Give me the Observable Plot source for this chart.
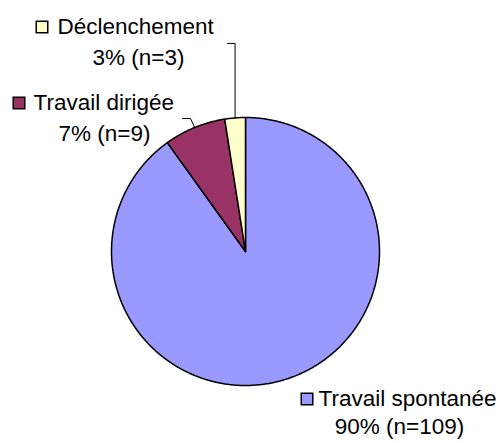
<!DOCTYPE html>
<html>
<head>
<meta charset="utf-8">
<script src="https://cdn.jsdelivr.net/npm/d3@7"></script>
<script src="https://cdn.jsdelivr.net/npm/@observablehq/plot@0.6"></script>
<style>
html,body{margin:0;padding:0;background:#fff;}
</style>
</head>
<body>
<div id="chart"></div>
<script>
// ---- data ----
const categories = ["Travail spontanée", "Travail dirigée", "Déclenchement"];
const counts = [109, 9, 3];
const percentLabels = ["90% (n=109)", "7% (n=9)", "3% (n=3)"];
const colors = ["#9999FF", "#993366", "#FFFFCC"];

// ---- layout ----
const W = 501, H = 443;
const cx = 245, cy = 251, R = 134;
const font = "'Liberation Sans', Arial, sans-serif";
const fs = 22.5;

const arcs = d3.pie().sort(null)(counts);

// slice polygons (data space: origin at pie centre, y up, units = px)
const slices = [];
arcs.forEach((a, i) => {
  slices.push({name: categories[i], x: 0, y: 0});
  const n = Math.max(4, Math.ceil((a.endAngle - a.startAngle) / 0.01));
  for (let k = 0; k <= n; k++) {
    const t = a.startAngle + (a.endAngle - a.startAngle) * k / n;
    slices.push({name: categories[i], x: R * Math.sin(t), y: R * Math.cos(t)});
  }
});

// label anchors (pixel positions)
const labelPos = [
  {sq: 300, tx: 318, cx2: 399, b1: 405, b2: 433},
  {sq: 12,  tx: 33,  cx2: 104, b1: 109, b2: 140},
  {sq: 35,  tx: 57,  cx2: 138, b1: 33,  b2: 64}
];
const px = v => v - cx;
const py = v => cy - v;
const mid = 0.32 * fs;

const line1 = [], line2 = [], squares = [];
categories.forEach((c, i) => {
  const p = labelPos[i];
  line1.push({name: c, text: c, x: px(p.tx), y: py(p.b1 - mid)});
  line2.push({name: c, text: percentLabels[i], x: px(p.cx2), y: py(p.b2 - mid)});
  squares.push({name: c, x: px(p.sq + 6.5), y: py(p.b1 - 6.5)});
});

// leader lines for small slices
const leaders = [];
function midPt(i, r) {
  const a = (arcs[i].startAngle + arcs[i].endAngle) / 2;
  return {x: r * Math.sin(a), y: r * Math.cos(a)};
}
{
  const m = midPt(2, R);
  leaders.push({g: 2, x: px(227), y: py(43)}, {g: 2, x: m.x, y: py(43)}, {g: 2, x: m.x, y: m.y});
  const m1 = midPt(1, R);
  leaders.push({g: 1, x: px(182), y: py(118)}, {g: 1, x: px(190), y: py(118)}, {g: 1, x: m1.x, y: m1.y});
}

const chart = Plot.plot({
  width: W, height: H,
  margin: 0,
  style: {fontFamily: font, background: "#fff"},
  x: {domain: [-cx, W - cx], axis: null},
  y: {domain: [-(H - cy), cy], axis: null},
  color: {domain: categories, range: colors},
  marks: [
    Plot.line(slices, {x: "x", y: "y", z: "name", fill: "name", stroke: "#000", strokeWidth: 1.5, curve: "linear-closed", strokeLinejoin: "round"}),
    Plot.line(leaders, {x: "x", y: "y", z: "g", stroke: "#000", strokeWidth: 1}),
    Plot.dot(squares, {x: "x", y: "y", symbol: "square", r: 6.5, fill: "name", stroke: "#000", strokeWidth: 1.5}),
    Plot.text(line1, {x: "x", y: "y", text: "text", textAnchor: "start", fontSize: fs, fill: "#000", lineAnchor: "middle"}),
    Plot.text(line2, {x: "x", y: "y", text: "text", textAnchor: "middle", fontSize: fs, fill: "#000", lineAnchor: "middle"})
  ]
});
document.getElementById("chart").appendChild(chart);
</script>
</body>
</html>
